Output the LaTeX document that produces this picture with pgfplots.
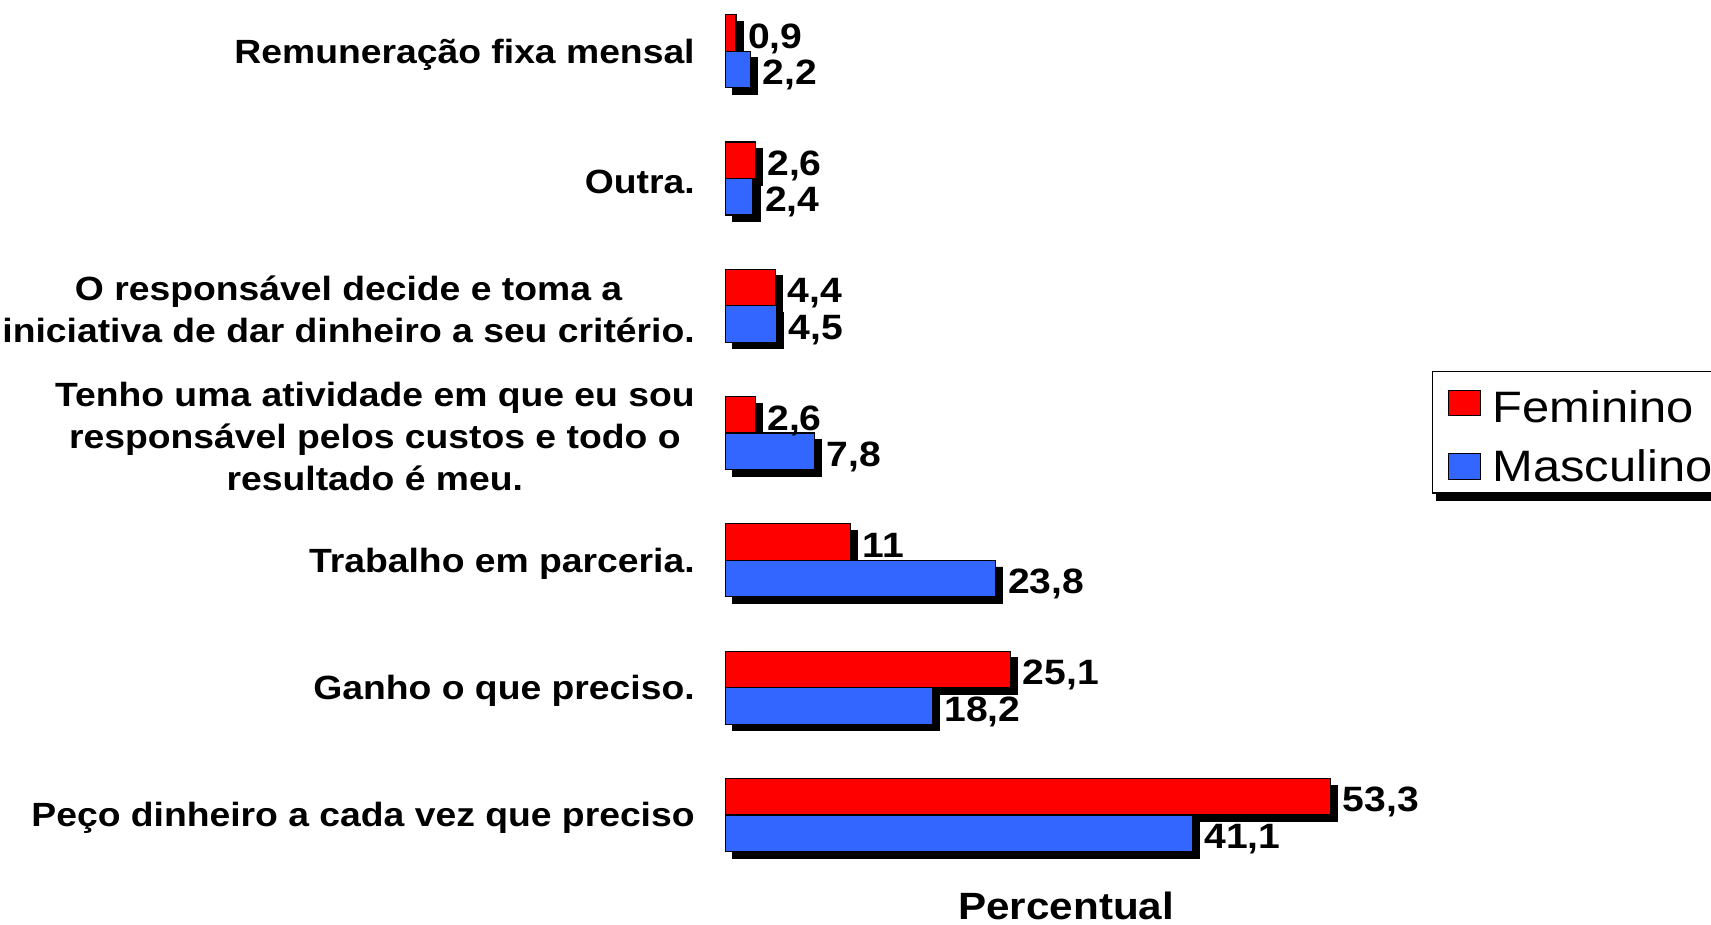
\documentclass[border=0pt]{standalone}
\usepackage{fontspec}
\setmainfont{Liberation Sans}[FakeStretch=1.11]
\usepackage{pgfplots}
\pgfplotsset{compat=1.18}

\definecolor{fem}{HTML}{FF0000}
\definecolor{mas}{HTML}{3366FF}

% Feminino / Masculino, percent; y = category index from the bottom
\pgfplotstableread{
y fem mas
0 53.3 41.1
1 25.1 18.2
2 11   23.8
3 2.6  7.8
4 4.4  4.5
5 2.6  2.4
6 0.9  2.2
}\data

\begin{document}
\begin{tikzpicture}
\begin{axis}[
  scale only axis,
  width=340.5pt, height=462.5pt,
  xmin=0, xmax=60,
  ymin=-0.864, ymax=6.402,
  axis line style={draw=none},
  major tick length=0pt,
  xtick=\empty,
  ytick={0,...,6},
  yticklabels={
    {Peço dinheiro a cada vez que preciso},
    {Ganho o que preciso.},
    {Trabalho em parceria.},
    {Tenho uma atividade em que eu sou\\responsável pelos custos e todo o\\resultado é meu.},
    {O responsável decide e toma a\\iniciativa de dar dinheiro a seu critério.},
    {Outra.},
    {Remuneração fixa mensal}},
  yticklabel style={font=\bfseries\fontsize{16.8}{21}\selectfont, align=center,
    anchor=east, inner sep=0pt, xshift=-15.3pt, yshift=-1.6pt},
  xbar, bar width=18.25pt,
  clip=false,
  xlabel={Percentual},
  xlabel style={font=\bfseries\fontsize{19}{22}\selectfont, at={(axis description cs:0.5,0)},
    anchor=base, yshift=2.6pt, inner sep=0pt},
  nodes near coords,
  /pgf/number format/use comma,
  /pgf/number format/assume math mode=true,
  every node near coord/.append style={font=\bfseries\fontsize{17.6}{21}\selectfont,
    anchor=base west, inner sep=0pt, xshift=5.8pt, yshift=-7.6pt, black},
  legend cell align=left,
  legend style={name=leg, at={(1.0367,0.599)}, anchor=north west, draw=black, line width=0.6pt,
    fill=white, font=\fontsize{22}{25}\selectfont,
    inner xsep=8pt, inner ysep=2.5pt, row sep=8pt},
]
% shadows
\addplot[fill=black, draw=black, bar shift=9.125pt, xshift=3.5pt, yshift=-3.3pt,
  forget plot, nodes near coords={}] table[x=fem, y=y] {\data};
\addplot[fill=black, draw=black, bar shift=-9.125pt, xshift=3.5pt, yshift=-3.3pt,
  forget plot, nodes near coords={}] table[x=mas, y=y] {\data};
% bars
\addplot[fill=fem, draw=black, line width=0.6pt, bar shift=9.125pt,
  legend image code/.code={\draw[fill=fem, draw=black, line width=0.6pt] (0pt,-6.35pt) rectangle (16pt,6.35pt); \path (19.5pt,0pt);}]
  table[x=fem, y=y] {\data};
\addlegendentry{\rule{0pt}{20.8pt}Feminino}
\addplot[fill=mas, draw=black, line width=0.6pt, bar shift=-9.125pt,
  legend image code/.code={\draw[fill=mas, draw=black, line width=0.6pt] (0pt,-6.35pt) rectangle (16pt,6.35pt); \path (19.5pt,0pt);}]
  table[x=mas, y=y] {\data};
\addlegendentry{Masculino}
\end{axis}
\fill[black] ([xshift=2.2pt,yshift=-3.5pt]leg.south west) rectangle ([xshift=2.2pt]leg.south east);
\pgfresetboundingbox
\path ([xshift=-362.85pt]current axis.south west) rectangle ([xshift=152.15pt]current axis.north east);
\end{tikzpicture}
\end{document}
